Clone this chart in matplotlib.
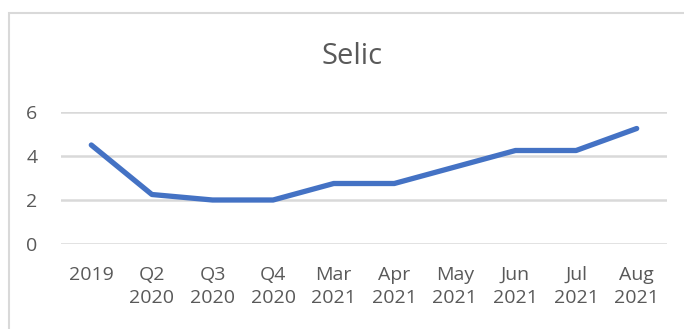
import matplotlib
matplotlib.use("Agg")
from matplotlib import pyplot as plt
from matplotlib.patches import Rectangle

labels = ["2019", "Q2\n2020", "Q3\n2020", "Q4\n2020", "Mar\n2021", "Apr\n2021",
          "May\n2021", "Jun\n2021", "Jul\n2021", "Aug\n2021"]
selic = [4.5, 2.25, 2.0, 2.0, 2.75, 2.75, 3.5, 4.25, 4.25, 5.25]

plt.rcParams["font.family"] = ["Open Sans", "DejaVu Sans"]
txt = "#595959"
grid = "#d9d9d9"

fig = plt.figure(figsize=(6.84, 3.29), dpi=100)
ax = fig.add_axes([61/684, 1-244/329, (667-61)/684, (244-112)/329])

x = list(range(len(selic)))
ax.plot(x, selic, color="#4472C4", linewidth=3.8, solid_capstyle="round", solid_joinstyle="round")

ax.set_xlim(-0.5, len(selic)-0.5)
ax.set_ylim(0, 6)
ax.set_yticks([0, 2, 4, 6])
ax.set_xticks(x)
ax.set_xticklabels(labels, linespacing=1.35)
ax.yaxis.grid(True, color=grid, linewidth=1.8)
ax.set_axisbelow(True)
for s in ax.spines.values():
    s.set_visible(False)
ax.tick_params(axis="both", length=0, colors=txt, labelsize=14)
ax.tick_params(axis="x", pad=16)
ax.tick_params(axis="y", pad=17)

fig.text(352/684, 1-57/329, "Selic", ha="center", va="center", fontsize=21, color=txt)

# chart frame
fig.patches.append(Rectangle((9/684, -0.1), 1.0, 1-13/329+0.1, transform=fig.transFigure,
                             fill=False, edgecolor=grid, linewidth=1.5))

fig.savefig("out.png", dpi=100)
